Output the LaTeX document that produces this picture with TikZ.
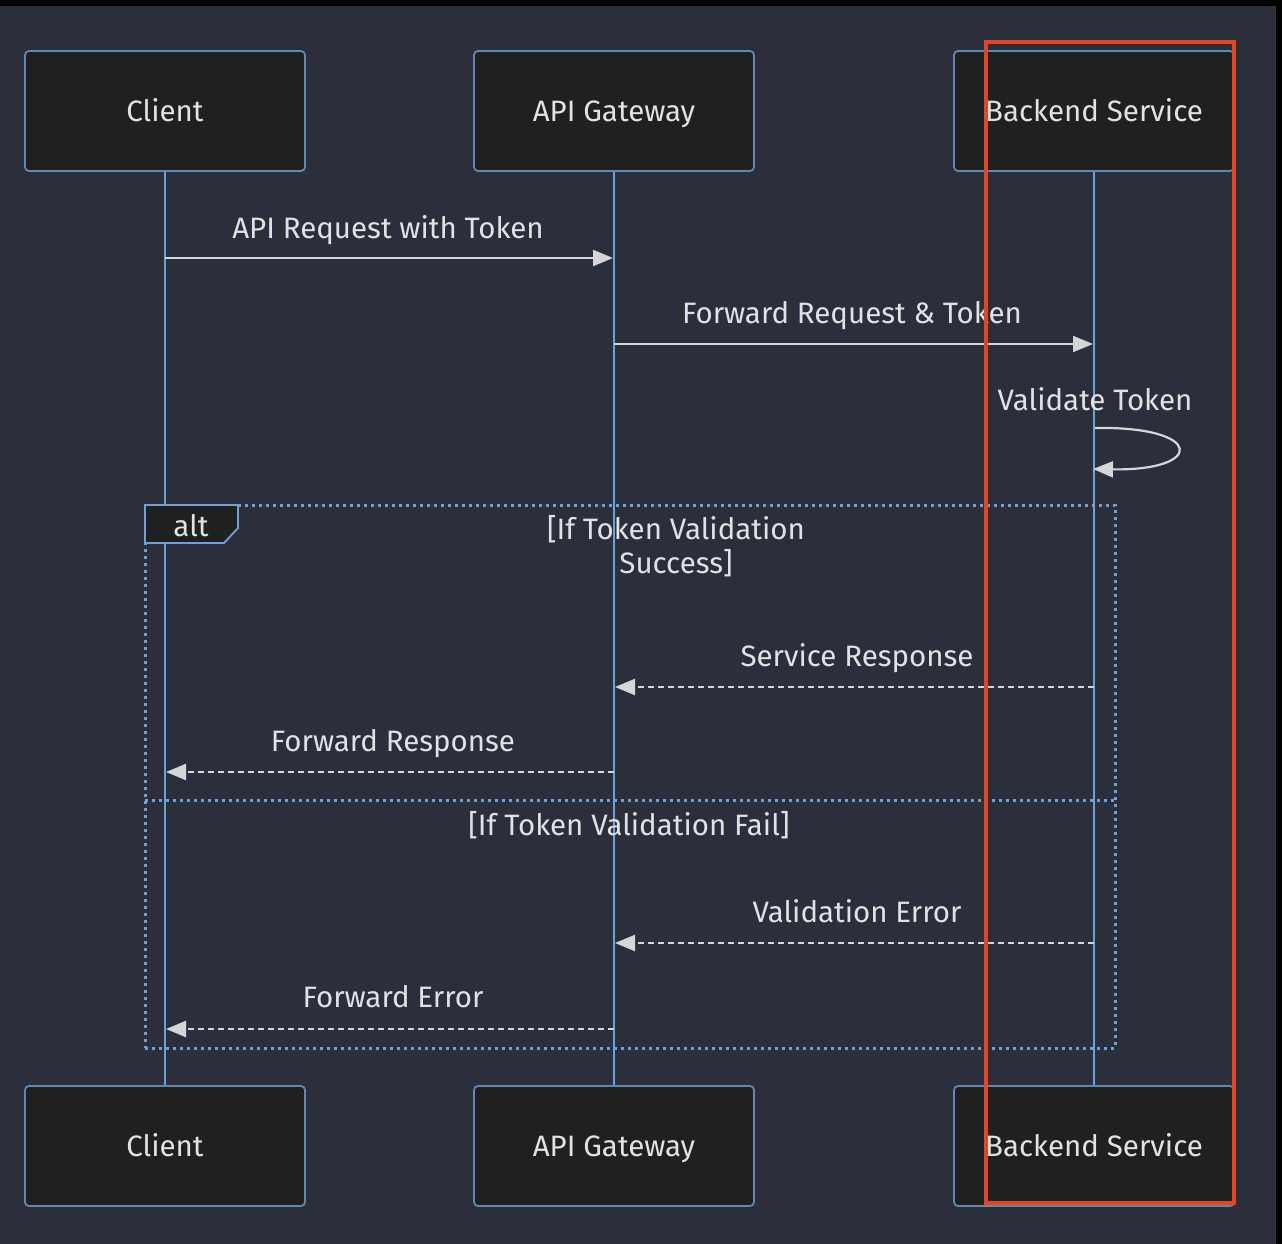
\documentclass[tikz,border=0pt]{standalone}
\usepackage{fontspec}
\setmainfont{Fira Sans}
\usetikzlibrary{arrows.meta}
\definecolor{bgc}{HTML}{2A2F3B}
\definecolor{boxfill}{HTML}{1F2020}
\definecolor{boxline}{HTML}{5F88B5}
\definecolor{lifec}{HTML}{6FA0D6}
\definecolor{txtc}{HTML}{E2E2E2}
\definecolor{msgc}{HTML}{D6D6D6}
\definecolor{redc}{HTML}{E8441E}
\tikzset{
  actor/.style={draw=boxline, fill=boxfill, line width=1.8pt, rounded corners=4pt,
    minimum width=280pt, minimum height=120pt, inner sep=0pt, text=txtc,
    font=\fontsize{29.5}{32}\selectfont, text height=27pt, text depth=6pt},
  lifeline/.style={draw=lifec, line width=2.8pt},
  lbl/.style={text=txtc, font=\fontsize{29.5}{32}\selectfont, inner sep=0pt,
    text height=27pt, text depth=6pt},
  msg/.style={draw=msgc, line width=2.2pt, -{Triangle[length=20pt,width=16pt]}},
  dmsg/.style={msg, dash pattern=on 6pt off 4pt},
  dotline/.style={draw=lifec, line width=3pt, dash pattern=on 3pt off 4pt},
}
\begin{document}
\begin{tikzpicture}[x=1pt,y=-1pt]
\useasboundingbox (0,0) rectangle (1282,1244);
\fill[bgc] (0,0) rectangle (1282,1244);
\fill[black] (0,0) rectangle (1282,6);
\fill[black] (1276,0) rectangle (1282,1244);

% lifelines first (behind boxes)
\coordinate (cl1) at (165,171); \coordinate (cl2) at (165,1086);
\coordinate (gl1) at (614,171); \coordinate (gl2) at (614,1086);
\coordinate (bl1) at (1094,171); \coordinate (bl2) at (1094,1086);
\draw[lifeline] (cl1) -- (cl2);
\draw[lifeline] (gl1) -- (gl2);
\draw[lifeline] (bl1) -- (bl2);

% alt frame
\node[dotline, minimum width=970pt, minimum height=543pt, inner sep=0pt] (alt) at (630,776.5) {};
\coordinate (sepL) at (145,800); \coordinate (sepR) at (1115,800);
\draw[dotline] (sepL) -- (sepR);
\coordinate (a1) at (145,505); \coordinate (a2) at (238,505); \coordinate (a3) at (238,528);
\coordinate (a4) at (224,543); \coordinate (a5) at (145,543);
\draw[fill=boxfill, draw=lifec, line width=1.8pt] (a1) -- (a2) -- (a3) -- (a4) -- (a5) -- cycle;
\node[lbl] (altl) at (191,526) {alt};
\node[lbl] (cond1a) at (676,529) {[If Token Validation};
\node[lbl] (cond1b) at (676,563) {Success]};
\node[lbl] (cond2) at (629,825) {[If Token Validation Fail]};

% actors
\node[actor] (c1) at (165,111) {Client};
\node[actor] (g1) at (614,111) {API Gateway};
\node[actor] (b1) at (1094,111) {Backend Service};
\node[actor] (c2) at (165,1146) {Client};
\node[actor] (g2) at (614,1146) {API Gateway};
\node[actor] (b2) at (1094,1146) {Backend Service};

% message 1
\node[lbl] (t1) at (388,228) {API Request with Token};
\coordinate (m1s) at (165,258); \coordinate (m1e) at (613,258);
\draw[msg] (m1s) -- (m1e);
% message 2
\node[lbl] (t2) at (852,313) {Forward Request \& Token};
\coordinate (m2s) at (614,344); \coordinate (m2e) at (1093,344);
\draw[msg] (m2s) -- (m2e);
% self loop
\node[lbl] (t3) at (1095,400) {Validate Token};
\coordinate (l1) at (1095,428); \coordinate (l2) at (1093,469);
\draw[msg] (l1) .. controls (1205,426) and (1205,471) .. (l2);
% service response
\node[lbl] (t4) at (857,656) {Service Response};
\coordinate (m4s) at (1094,687); \coordinate (m4e) at (615,687);
\draw[dmsg] (m4s) -- (m4e);
% forward response
\node[lbl] (t5) at (393,741) {Forward Response};
\coordinate (m5s) at (614,772); \coordinate (m5e) at (166,772);
\draw[dmsg] (m5s) -- (m5e);
% validation error
\node[lbl] (t6) at (857,912) {Validation Error};
\coordinate (m6s) at (1094,943); \coordinate (m6e) at (615,943);
\draw[dmsg] (m6s) -- (m6e);
% forward error
\node[lbl] (t7) at (393,997) {Forward Error};
\coordinate (m7s) at (614,1029); \coordinate (m7e) at (166,1029);
\draw[dmsg] (m7s) -- (m7e);

% red highlight
\node[draw=redc, line width=4pt, minimum width=248pt, minimum height=1161pt, inner sep=0pt] (hl) at (1110,622.5) {};
\end{tikzpicture}
\end{document}
